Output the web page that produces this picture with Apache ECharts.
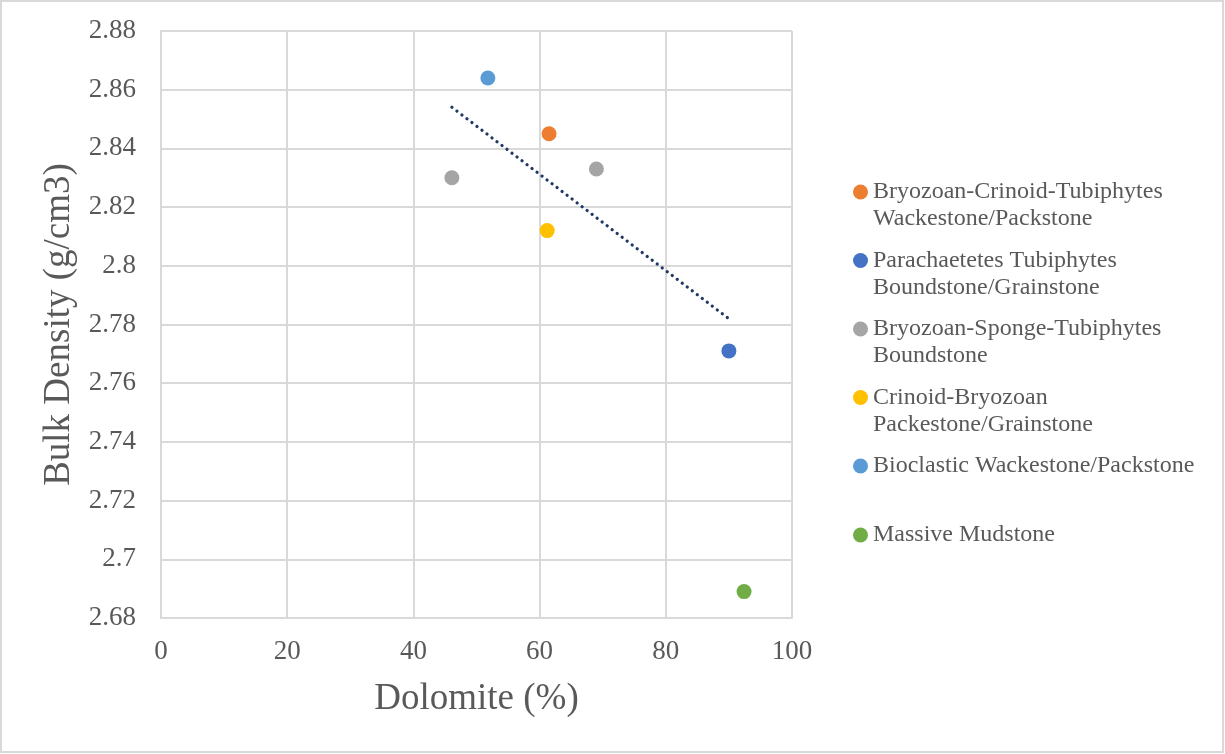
<!DOCTYPE html>
<html>
<head>
<meta charset="utf-8">
<title>Bulk Density vs Dolomite</title>
<script src="https://cdn.jsdelivr.net/npm/echarts@6/dist/echarts.min.js"></script>
<style>
  html, body { margin: 0; padding: 0; background: #ffffff; }
  #chart { width: 1225px; height: 754px; }
</style>
</head>
<body>
<div id="chart"></div>
<script>
// Facies names (legend text, split over lines as shown in the key)
const faciesLines = [
  ['Bryozoan-Crinoid-Tubiphytes', 'Wackestone/Packstone'],
  ['Parachaetetes Tubiphytes', 'Boundstone/Grainstone'],
  ['Bryozoan-Sponge-Tubiphytes', 'Boundstone'],
  ['Crinoid-Bryozoan', 'Packestone/Grainstone'],
  ['Bioclastic Wackestone/Packstone'],
  ['Massive Mudstone']
];

// Dolomite content (%) per facies sample
const dolomite = [
  [61.5],
  [90.0],
  [46.1, 69.0],
  [61.2],
  [51.8],
  [92.4]
];

// Bulk density (g/cm3) per facies sample
const bulkDensity = [
  [2.845],
  [2.771],
  [2.830, 2.833],
  [2.812],
  [2.864],
  [2.689]
];

// Facies fitted by the linear trend (all except Massive Mudstone)
const trendFacies = [0, 1, 2, 3, 4];

const colors = ['#ED7D31', '#4472C4', '#A5A5A5', '#FFC000', '#5B9BD5', '#70AD47'];
const trendColor = '#203864';

const xMin = 0, xMax = 100, xStep = 20;
const yMin = 2.68, yMax = 2.88, yStep = 0.02;

const FONT = '"Liberation Serif", "Times New Roman", serif';
const TEXT = '#595959';
const GRID = '#d9d9d9';

// least-squares line through the fitted samples
function linearTrend(idx) {
  const xs = [], ys = [];
  idx.forEach(i => {
    dolomite[i].forEach((x, k) => { xs.push(x); ys.push(bulkDensity[i][k]); });
  });
  const n = xs.length;
  const mx = xs.reduce((a, b) => a + b, 0) / n;
  const my = ys.reduce((a, b) => a + b, 0) / n;
  let sxy = 0, sxx = 0;
  for (let k = 0; k < n; k++) {
    sxy += (xs[k] - mx) * (ys[k] - my);
    sxx += (xs[k] - mx) * (xs[k] - mx);
  }
  const slope = sxy / sxx;
  const x0 = Math.min(...xs), x1 = Math.max(...xs);
  return [[x0, my + slope * (x0 - mx)], [x1, my + slope * (x1 - mx)]];
}

const names = faciesLines.map(l => l.join(' '));

const scatterSeries = names.map((name, i) => ({
  name: name,
  type: 'scatter',
  symbol: 'circle',
  symbolSize: 15,
  itemStyle: { color: colors[i], opacity: 1 },
  emphasis: { disabled: true },
  z: 3,
  data: dolomite[i].map((x, k) => [x, bulkDensity[i][k]])
}));

const trendSeries = {
  name: 'Linear trend',
  type: 'line',
  data: linearTrend(trendFacies),
  symbol: 'none',
  silent: true,
  z: 2,
  lineStyle: { color: trendColor, width: 3.2, type: [0.1, 6.2], cap: 'round' }
};

// Key marker: a dot at the top of a tall box, so it sits beside the first
// text line of a wrapped entry (the trailing zero-length segment sets the box height).
const DOT = 15, LINE_H = 27;
function keyIcon(lines) {
  const h = DOT + (lines - 1) * LINE_H;
  return 'path://M0,7.5A7.5,7.5,0,1,1,15,7.5A7.5,7.5,0,1,1,0,7.5Z' +
         'M7.5,' + h + 'L7.5,' + h;
}

// one key entry per facies, stacked down the right side
const keyIconY = [192, 260.5, 329, 397.5, 466, 535];
const legends = names.map((name, i) => {
  const n = faciesLines[i].length;
  return {
    orient: 'vertical',
    left: 853,
    top: keyIconY[i] - 13.5,
    padding: 0,
    itemWidth: DOT,
    itemHeight: DOT + (n - 1) * LINE_H,
    itemGap: 0,
    selectedMode: false,
    formatter: () => faciesLines[i].join('\n'),
    textStyle: {
      fontFamily: FONT,
      fontSize: 24,
      lineHeight: LINE_H,
      color: TEXT
    },
    data: [{ name: name, icon: n > 1 ? keyIcon(n) : 'circle' }]
  };
});

const chart = echarts.init(document.getElementById('chart'), null, { renderer: 'canvas' });
chart.setOption({
  backgroundColor: '#ffffff',
  animation: false,
  color: colors,
  grid: { left: 161, right: 433, top: 31, bottom: 136, containLabel: false },
  legend: legends,
  xAxis: {
    type: 'value',
    min: xMin, max: xMax, interval: xStep,
    name: 'Dolomite (%)',
    nameLocation: 'middle',
    nameGap: 63,
    nameTextStyle: { fontFamily: FONT, fontSize: 37, color: TEXT },
    axisLine: { show: true, lineStyle: { color: GRID, width: 2 } },
    axisTick: { show: false },
    axisLabel: { fontFamily: FONT, fontSize: 27, color: TEXT, margin: 20 },
    splitLine: { show: true, lineStyle: { color: GRID, width: 2 } }
  },
  yAxis: {
    type: 'value',
    min: yMin, max: yMax, interval: yStep,
    name: 'Bulk Density (g/cm3)',
    nameLocation: 'middle',
    nameGap: 82,
    nameRotate: 90,
    nameTextStyle: { fontFamily: FONT, fontSize: 37, color: TEXT },
    axisLine: { show: true, lineStyle: { color: GRID, width: 2 } },
    axisTick: { show: false },
    axisLabel: {
      fontFamily: FONT, fontSize: 27, color: TEXT, margin: 25,
      formatter: v => String(+v.toFixed(2))
    },
    splitLine: { show: true, lineStyle: { color: GRID, width: 2 } }
  },
  graphic: [{
    type: 'rect',
    silent: true,
    shape: { x: 1, y: 1, width: 1222, height: 751 },
    style: { fill: null, stroke: GRID, lineWidth: 2 }
  }],
  series: [trendSeries].concat(scatterSeries)
});
</script>
</body>
</html>
